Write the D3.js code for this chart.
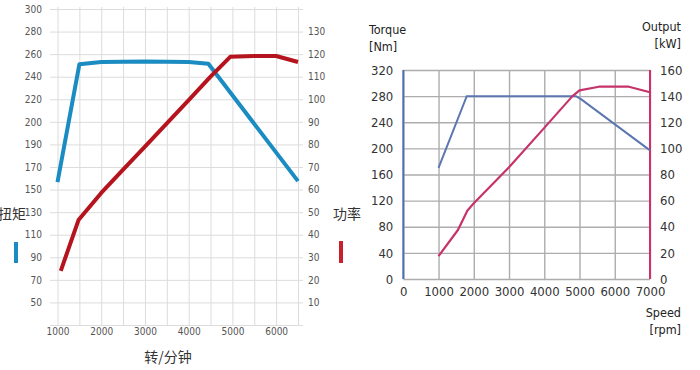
<!DOCTYPE html>
<html>
<head>
<meta charset="utf-8">
<script src="https://cdn.jsdelivr.net/npm/d3@7"></script>
<style>
    body { margin: 0; background: #fff; }
    svg { display: block; }
    .narrow { font-family: "Liberation Sans Narrow", "DejaVu Sans Condensed", sans-serif; }
    .cjk { font-family: "Noto Sans CJK SC", sans-serif; }
</style>
</head>
<body>
<svg id="chart" width="700" height="370"></svg>
<script>
// ---- left chart (扭矩 / 功率) ----
var cnRpmTicks = [1000, 2000, 3000, 4000, 5000, 6000];
var cnRpmGrid = [1000, 1500, 2000, 2500, 3000, 3500, 4000, 4500, 5000, 5500, 6000, 6500];
// the torque labels are printed unevenly (200 -> 190), the scale follows them
var cnTorqueTicks = [300, 280, 260, 240, 220, 200, 190, 170, 150, 130, 110, 90, 70, 50];
var cnPowerTicks = [130, 120, 110, 100, 90, 80, 70, 60, 50, 40, 30, 20, 10];
var cnTorque = [[1000, 156.5], [1500, 251], [2000, 253], [3000, 253.5], [4000, 253], [4450, 251.5], [6500, 157.5]];
var cnPower = [[1075, 24], [1480, 46.5], [2000, 58.5], [2500, 68.8], [3000, 79], [3500, 89.3], [4000, 99.6],
    [4500, 110], [4950, 118.8], [5500, 119.2], [6000, 119.2], [6500, 116.5]];

// ---- right chart (Torque / Output) ----
var enRpmTicks = [0, 1000, 2000, 3000, 4000, 5000, 6000, 7000];
var enTorqueTicks = [0, 40, 80, 120, 160, 200, 240, 280, 320];
var enOutputTicks = [0, 20, 40, 60, 80, 100, 120, 140, 160];
var enTorque = [[1000, 170], [1800, 280], [4900, 280], [5050, 275], [7000, 197]];
var enOutput = [[1000, 17.5], [1550, 37.5], [1820, 52.5], [2000, 58], [3000, 85.5], [4000, 115.7],
    [4800, 140], [5000, 144.4], [5550, 147.2], [6400, 147.2], [7000, 143]];

var svg = d3.select('#chart');

/**
 * Chinese chart, blue torque on a label-indexed axis, red power on the right
 */
function drawLeftChart(svg) {
    var left = 50, right = 303, top = 9, bottom = 325;
    var g = svg.append('g').attr('class', 'cn-chart');

    var x = d3.scaleLinear().domain([1000, 6500]).range([57.5, 298]);

    // torque: piecewise scale, one step per printed label, 30 is the unlabeled floor
    var torqueDomain = cnTorqueTicks.concat([30]);
    var idx = d3.scaleLinear().domain([0, torqueDomain.length - 1]).range([top, bottom]);
    var yTorque = d3.scaleLinear()
        .domain(torqueDomain)
        .range(torqueDomain.map(function (d, i) { return idx(i); }));
    var yPower = d3.scaleLinear().domain([0, 140]).range([bottom, top]);

    // grid
    g.append('g')
        .attr('transform', 'translate(' + left + ',0)')
        .call(d3.axisLeft(yTorque).tickValues(torqueDomain).tickSize(-(right - left)).tickFormat(''))
        .call(function (s) { s.select('.domain').remove(); })
        .selectAll('line').attr('stroke', '#dcdcdc');
    g.append('g')
        .attr('transform', 'translate(0,' + bottom + ')')
        .call(d3.axisBottom(x).tickValues(cnRpmGrid).tickSize(-(bottom - top + 2)).tickFormat(''))
        .call(function (s) { s.select('.domain').remove(); })
        .selectAll('line').attr('stroke', '#dcdcdc');

    // axes labels
    var axisStyle = function (s) {
        s.select('.domain').remove();
        s.selectAll('text').attr('class', 'narrow').attr('fill', '#555').style('font-size', '10px');
    };
    g.append('g')
        .attr('transform', 'translate(' + left + ',0)')
        .call(d3.axisLeft(yTorque).tickValues(cnTorqueTicks).tickSize(0).tickPadding(8))
        .call(axisStyle);
    g.append('g')
        .attr('transform', 'translate(' + right + ',0)')
        .call(d3.axisRight(yPower).tickValues(cnPowerTicks).tickSize(0).tickPadding(5))
        .call(axisStyle);
    g.append('g')
        .attr('transform', 'translate(0,' + bottom + ')')
        .call(d3.axisBottom(x).tickValues(cnRpmTicks).tickSize(0).tickPadding(3).tickFormat(d3.format('d')))
        .call(axisStyle);

    // lines
    g.append('path')
        .datum(cnTorque)
        .attr('fill', 'none')
        .attr('stroke', '#1a8cc1')
        .attr('stroke-width', 4)
        .attr('stroke-linejoin', 'round')
        .attr('d', d3.line().x(function (d) { return x(d[0]); }).y(function (d) { return yTorque(d[1]); }));
    g.append('path')
        .datum(cnPower)
        .attr('fill', 'none')
        .attr('stroke', '#b5141e')
        .attr('stroke-width', 4)
        .attr('stroke-linejoin', 'round')
        .attr('d', d3.line().x(function (d) { return x(d[0]); }).y(function (d) { return yPower(d[1]); }));

    // titles + legend bars
    g.append('text').attr('class', 'cjk').attr('x', -2).attr('y', 219)
        .style('font-size', '14px').attr('fill', '#333').text('扭矩');
    g.append('rect').attr('x', 14).attr('y', 242).attr('width', 4).attr('height', 21).attr('fill', '#1a8cc1');
    g.append('text').attr('class', 'cjk').attr('x', 333).attr('y', 219)
        .style('font-size', '14px').attr('fill', '#333').text('功率');
    g.append('rect').attr('x', 339).attr('y', 241).attr('width', 4).attr('height', 22).attr('fill', '#c8202c');
    g.append('text').attr('class', 'cjk').attr('x', 168).attr('y', 362)
        .attr('text-anchor', 'middle').style('font-size', '14px').attr('fill', '#333').text('转/分钟');
}

/**
 * English chart, torque left, output right, speed below
 */
function drawRightChart(svg) {
    var left = 403.3, right = 650, top = 70, bottom = 279;
    var g = svg.append('g').attr('class', 'en-chart');

    var x = d3.scaleLinear().domain([0, 7000]).range([left, right]);
    var yTorque = d3.scaleLinear().domain([0, 320]).range([bottom, top]);
    var yOutput = d3.scaleLinear().domain([0, 160]).range([bottom, top]);

    // grid
    g.append('g')
        .attr('transform', 'translate(' + left + ',0)')
        .call(d3.axisLeft(yTorque).tickValues(enTorqueTicks).tickSize(-(right - left)).tickFormat(''))
        .call(function (s) { s.select('.domain').remove(); })
        .selectAll('line').attr('stroke', '#adadad').attr('stroke-width', 1.4);
    g.append('g')
        .attr('transform', 'translate(0,' + bottom + ')')
        .call(d3.axisBottom(x).tickValues(enRpmTicks).tickSize(-(bottom - top)).tickFormat(''))
        .call(function (s) { s.select('.domain').remove(); })
        .selectAll('line').attr('stroke', '#adadad').attr('stroke-width', 1.4);

    // coloured axis lines
    g.append('line').attr('x1', left).attr('x2', left).attr('y1', top).attr('y2', bottom)
        .attr('stroke', '#4d6db8').attr('stroke-width', 2);
    g.append('line').attr('x1', right).attr('x2', right).attr('y1', top).attr('y2', bottom)
        .attr('stroke', '#d22e6c').attr('stroke-width', 2);

    var axisStyle = function (s) {
        s.select('.domain').remove();
        s.selectAll('text').attr('class', 'narrow').attr('fill', '#333').style('font-size', '13px');
    };
    g.append('g')
        .attr('transform', 'translate(' + left + ',0)')
        .call(d3.axisLeft(yTorque).tickValues(enTorqueTicks).tickSize(0).tickPadding(10))
        .call(axisStyle);
    g.append('g')
        .attr('transform', 'translate(' + right + ',0)')
        .call(d3.axisRight(yOutput).tickValues(enOutputTicks).tickSize(0).tickPadding(10))
        .call(axisStyle);
    g.append('g')
        .attr('transform', 'translate(0,' + bottom + ')')
        .call(d3.axisBottom(x).tickValues(enRpmTicks).tickSize(0).tickPadding(8).tickFormat(d3.format('d')))
        .call(axisStyle);

    // lines
    g.append('path')
        .datum(enTorque)
        .attr('fill', 'none')
        .attr('stroke', '#5c76b2')
        .attr('stroke-width', 2)
        .attr('d', d3.line().x(function (d) { return x(d[0]); }).y(function (d) { return yTorque(d[1]); }));
    g.append('path')
        .datum(enOutput)
        .attr('fill', 'none')
        .attr('stroke', '#c6336a')
        .attr('stroke-width', 2.2)
        .attr('stroke-linejoin', 'round')
        .attr('d', d3.line().x(function (d) { return x(d[0]); }).y(function (d) { return yOutput(d[1]); }));

    // unit titles
    var title = function (tx, ty, anchor, lines) {
        var t = g.append('text').attr('class', 'narrow').attr('x', tx).attr('y', ty)
            .attr('text-anchor', anchor).attr('fill', '#222').style('font-size', '12.5px');
        lines.forEach(function (line, i) {
            t.append('tspan').attr('x', tx).attr('dy', i === 0 ? 0 : 17).text(line);
        });
    };
    title(369, 34, 'start', ['Torque', '[Nm]']);
    title(681, 31, 'end', ['Output', '[kW]']);
    title(681, 317, 'end', ['Speed', '[rpm]']);
}

drawLeftChart(svg);
drawRightChart(svg);
</script>
</body>
</html>
